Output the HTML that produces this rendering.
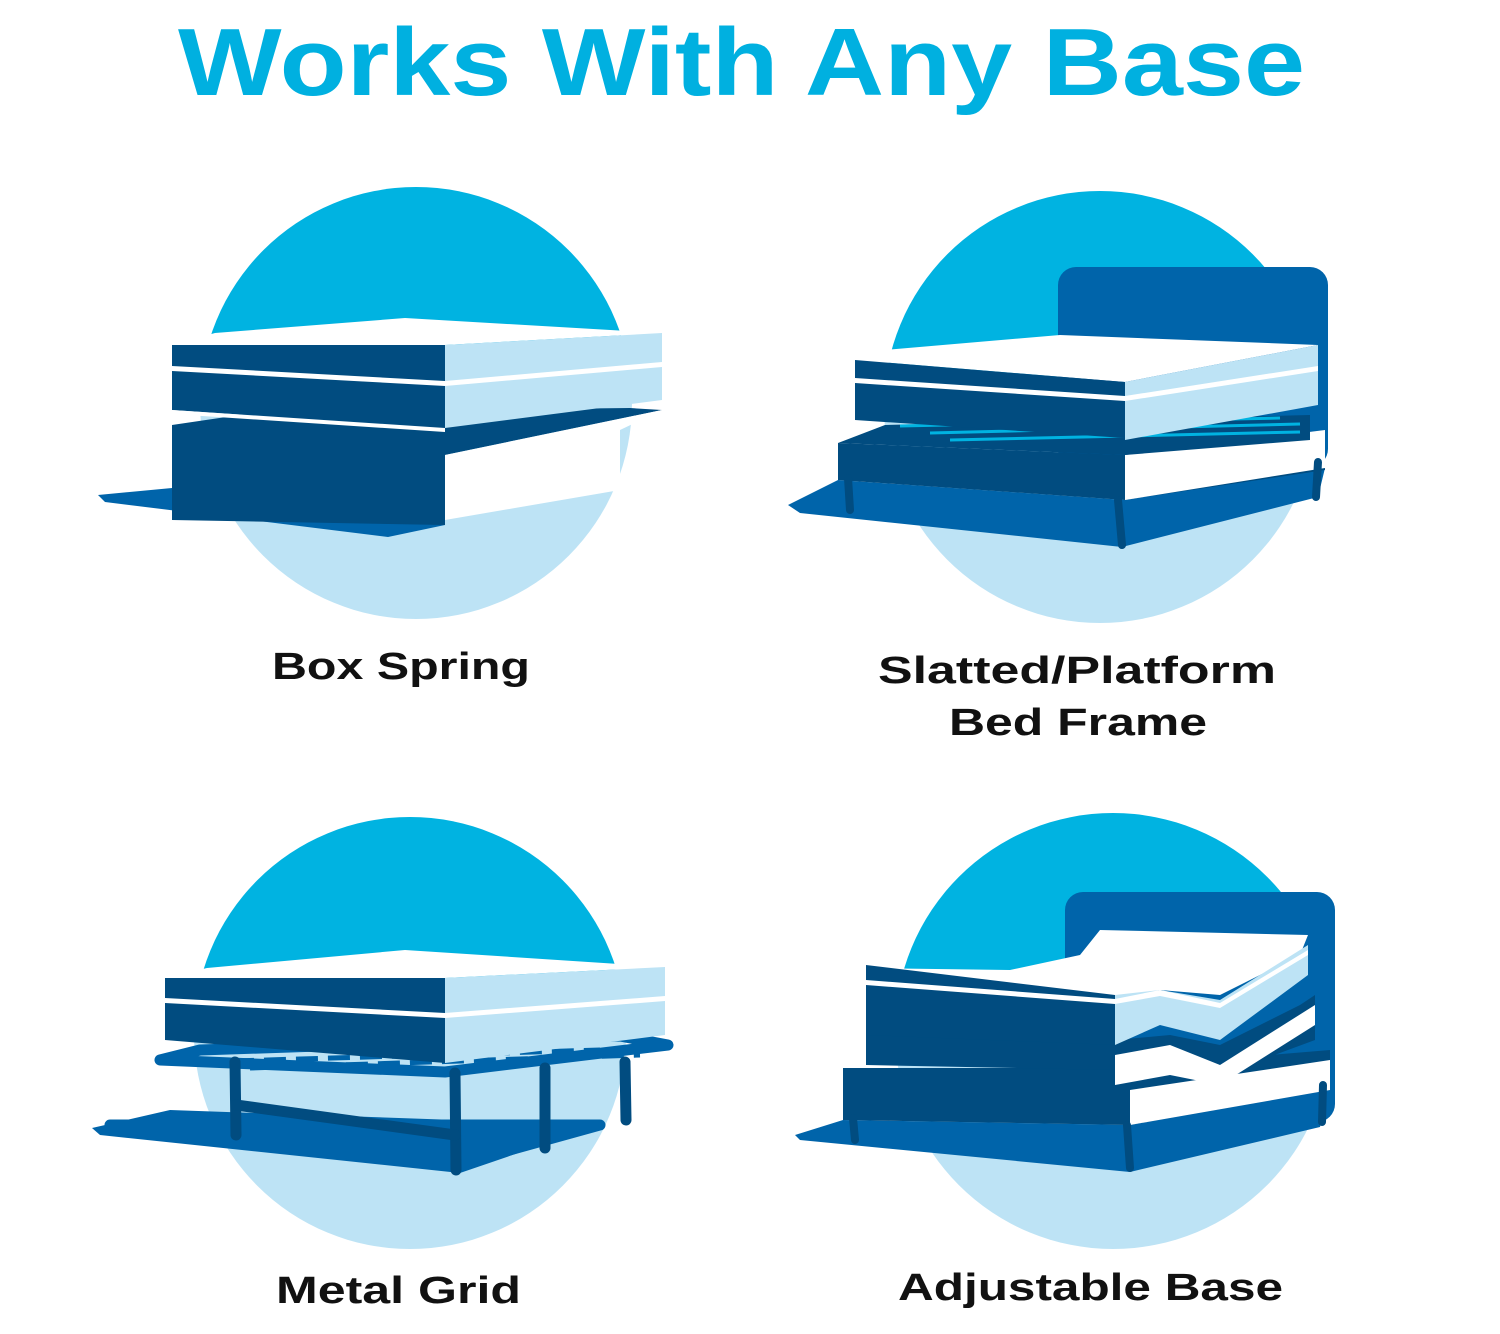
<!DOCTYPE html>
<html><head><meta charset="utf-8"><style>
html,body{margin:0;padding:0;background:#fff;}
svg{display:block;}
text{font-family:"Liberation Sans",sans-serif;font-weight:bold;}
</style></head><body>
<svg width="1500" height="1334" viewBox="0 0 1500 1334" xmlns="http://www.w3.org/2000/svg">
<defs>
<linearGradient id="g" x1="0" y1="0" x2="0" y2="1">
<stop offset="0" stop-color="#00b3e1"/><stop offset="0.5" stop-color="#00b3e1"/>
<stop offset="0.5" stop-color="#bde3f5"/><stop offset="1" stop-color="#bde3f5"/>
</linearGradient>
</defs>
<rect width="1500" height="1334" fill="#fff"/>
<text x="178" y="95" font-size="96" fill="#00b0e0" textLength="1127" lengthAdjust="spacingAndGlyphs">Works With Any Base</text>

<circle cx="416" cy="403" r="216" fill="url(#g)"/>
<circle cx="1100" cy="407" r="216" fill="url(#g)"/>
<circle cx="410" cy="1033" r="216" fill="url(#g)"/>
<circle cx="1113" cy="1031" r="218" fill="url(#g)"/>

<!-- Box spring -->
<polygon points="98,495 172,488 445,525 388,537 105,502" fill="#0064aa"/>
<polygon points="172,425 260,412 630,408 662,410 445,455 445,525 172,520" fill="#014c80"/>
<polygon points="445,455 662,410 620,430 620,490 445,520" fill="#fff"/>
<polygon points="215,333 405,318 662,333 445,345 172,345" fill="#fff"/>
<polygon points="172,345 445,345 445,428 172,410" fill="#014c80"/>
<polygon points="172,366 445,381 445,386 172,371" fill="#fff"/>
<polygon points="445,345 662,333 662,400 445,428" fill="#bde3f5"/>
<polygon points="445,381 662,362 662,367 445,386" fill="#fff"/>
<polygon points="172,410 445,428 445,432 172,414" fill="#fff"/>

<!-- Slatted -->
<polygon points="788,505 838,480 1125,500 1325,468 1318,497 1122,547 800,513" fill="#0064aa"/>
<rect x="1058" y="267" width="270" height="200" rx="18" fill="#0064aa"/>
<polygon points="838,443 1125,455 1325,430 1325,470 1125,500 838,480" fill="#014c80"/>
<polygon points="1125,455 1325,430 1325,468 1125,500" fill="#fff"/>
<polygon points="885,425 1310,415 1310,440 1125,455 838,443" fill="#014c80"/>
<g stroke="#00b3e1" stroke-width="3"><line x1="930" y1="433" x2="1300" y2="424"/><line x1="950" y1="440" x2="1300" y2="432"/><line x1="900" y1="426" x2="1280" y2="418"/></g>
<polygon points="885,350 1060,335 1318,345 1125,382 855,360" fill="#fff"/>
<polygon points="855,360 1125,382 1125,438 855,420" fill="#014c80"/>
<polygon points="855,378 1125,396 1125,401 855,383" fill="#fff"/>
<polygon points="1125,382 1318,345 1318,405 1125,440" fill="#bde3f5"/>
<polygon points="1125,396 1318,366 1318,371 1125,401" fill="#fff"/>
<g stroke="#014c80" stroke-width="8" stroke-linecap="round"><line x1="848" y1="478" x2="850" y2="510"/><line x1="1118" y1="500" x2="1122" y2="545"/><line x1="1318" y1="462" x2="1316" y2="497"/></g>

<!-- Metal grid -->
<polygon points="92,1128 170,1110 600,1125 460,1173 100,1135" fill="#0064aa"/>
<g fill="none" stroke="#0064aa" stroke-width="11" stroke-linejoin="round">
<polygon points="160,1060 445,1072 668,1045 620,1036 200,1050"/>
<polygon points="110,1125 455,1165 600,1125"/>
</g>
<g stroke="#0064aa" stroke-width="5" stroke-dasharray="22 10">
<line x1="200" y1="1062" x2="600" y2="1050"/><line x1="250" y1="1068" x2="640" y2="1055"/>
</g>
<g stroke="#014c80" stroke-width="11" stroke-linecap="round"><line x1="235" y1="1062" x2="236" y2="1135"/><line x1="455" y1="1073" x2="456" y2="1170"/><line x1="545" y1="1068" x2="545" y2="1148"/><line x1="625" y1="1062" x2="626" y2="1120"/><line x1="236" y1="1105" x2="455" y2="1135"/></g>
<polygon points="207,968 405,950 665,967 445,978 165,978" fill="#fff"/>
<polygon points="165,978 445,978 445,1063 165,1040" fill="#014c80"/>
<polygon points="165,998 445,1013 445,1018 165,1003" fill="#fff"/>
<polygon points="445,978 665,967 665,1035 445,1063" fill="#bde3f5"/>
<polygon points="445,1013 665,996 665,1001 445,1018" fill="#fff"/>

<!-- Adjustable -->
<polygon points="795,1135 843,1120 1130,1125 1330,1090 1320,1127 1130,1172 800,1140" fill="#0064aa"/>
<rect x="1065" y="892" width="270" height="230" rx="18" fill="#0064aa"/>
<polygon points="843,1068 1115,1068 1330,1050 1330,1090 1130,1125 843,1120" fill="#014c80"/>
<polygon points="1130,1090 1330,1060 1330,1090 1130,1125" fill="#fff"/>
<polygon points="866,1032 1115,1040 1170,1035 1220,1045 1300,1005 1315,995 1315,1040 1220,1075 1170,1060 1115,1070 866,1065" fill="#014c80"/>
<polygon points="1115,1055 1170,1045 1220,1065 1315,1005 1315,1025 1220,1085 1170,1075 1115,1085" fill="#fff"/>
<polygon points="866,968 1010,970 1080,955 1100,930 1308,935 1300,955 1220,995 1160,990 1115,1000" fill="#fff"/>
<polygon points="866,965 1115,995 1115,1045 866,1035" fill="#014c80"/>
<polygon points="866,980 1115,999 1115,1004 866,985" fill="#fff"/>
<polygon points="1115,995 1160,990 1220,1000 1308,945 1308,975 1220,1040 1160,1025 1115,1045" fill="#bde3f5"/>
<polygon points="1115,999 1160,990 1220,1003 1308,950 1308,955 1220,1008 1160,996 1115,1004" fill="#fff"/>
<g stroke="#014c80" stroke-width="8" stroke-linecap="round"><line x1="853" y1="1118" x2="855" y2="1140"/><line x1="1127" y1="1125" x2="1130" y2="1168"/><line x1="1323" y1="1085" x2="1322" y2="1122"/></g>

<text x="272" y="679" font-size="38" fill="#111" textLength="258" lengthAdjust="spacingAndGlyphs">Box Spring</text>
<text x="878" y="683" font-size="38" fill="#111" textLength="398" lengthAdjust="spacingAndGlyphs">Slatted/Platform</text>
<text x="949" y="735" font-size="38" fill="#111" textLength="258" lengthAdjust="spacingAndGlyphs">Bed Frame</text>
<text x="276" y="1303" font-size="38" fill="#111" textLength="245" lengthAdjust="spacingAndGlyphs">Metal Grid</text>
<text x="898" y="1300" font-size="38" fill="#111" textLength="385" lengthAdjust="spacingAndGlyphs">Adjustable Base</text>
</svg>
</body></html>
